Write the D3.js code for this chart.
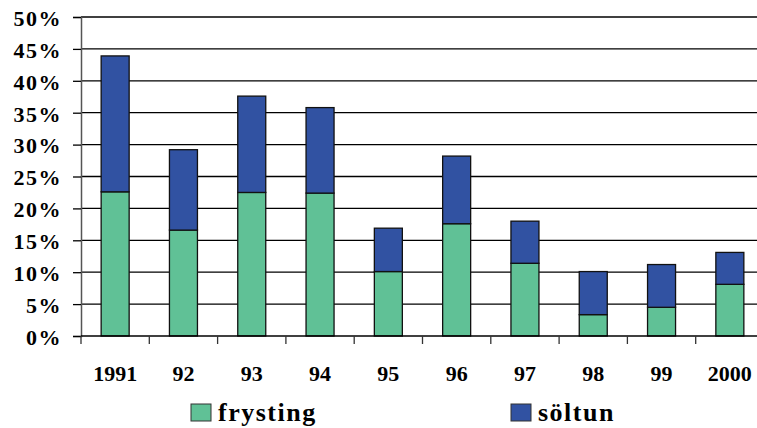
<!DOCTYPE html>
<html><head><meta charset="utf-8">
<script src="https://cdn.jsdelivr.net/npm/d3@7"></script>
<style>
body{margin:0;background:#fff}
svg{display:block}
svg text{font-family:"Liberation Serif",Tinos,"Times New Roman",serif;font-weight:bold}
</style>
</head><body>
<svg id="c" width="757" height="428"></svg>
<script>
const categories = ["1991","92","93","94","95","96","97","98","99","2000"];
const frysting = [22.6, 16.6, 22.5, 22.4, 10.1, 17.6, 11.4, 3.35, 4.5, 8.1];
const soltun   = [21.3, 12.6, 15.1, 13.4, 6.8, 10.6, 6.6, 6.75, 6.7, 5.0];
const seriesNames = ["frysting","söltun"];
const colors = ["#60C196","#3152A2"];
const yTicks = [0,5,10,15,20,25,30,35,40,45,50];

const svg = d3.select("#c");
const m = {left:81, top:17, right:764, bottom:336};
const x = d3.scaleBand().domain(categories).range([m.left, m.right]).paddingInner(0.59).paddingOuter(0.295);
const xb = d3.scaleBand().domain(categories).range([m.left, m.right]);
const y = d3.scaleLinear().domain([0,50]).range([m.bottom, m.top]);

// gridlines
svg.append("g").selectAll("line").data(yTicks.slice(1)).join("line")
  .attr("x1", m.left).attr("x2", 757).attr("y1", d=>y(d)).attr("y2", d=>y(d))
  .attr("stroke","#000").attr("stroke-width",1.3);

// stacked bars
const data = categories.map((c,i)=>({cat:c, frysting:frysting[i], soltun:soltun[i]}));
const stack = d3.stack().keys(["frysting","soltun"])(data);
svg.append("g").selectAll("g").data(stack).join("g").attr("fill",(d,i)=>colors[i])
  .selectAll("rect").data(d=>d).join("rect")
  .attr("x", d=>x(d.data.cat)).attr("width", x.bandwidth())
  .attr("y", d=>y(d[1])).attr("height", d=>y(d[0])-y(d[1]))
  .attr("stroke","#111").attr("stroke-width",1.3);

// y axis
const ya = svg.append("g").attr("transform",`translate(${m.left},0)`)
  .call(d3.axisLeft(y).tickValues(yTicks).tickFormat(d=>d+"%").tickSize(8).tickPadding(11));
ya.attr("font-family",null).attr("font-size",null);
ya.select(".domain").attr("stroke","#555").attr("stroke-width",1.5);
ya.selectAll(".tick line").attr("stroke","#000").attr("stroke-width",1.3);
ya.selectAll("text").style("font-size","22px").attr("fill","#000").attr("dy","0.38em").style("letter-spacing","1.5px");

// x axis
svg.append("line").attr("x1",m.left).attr("x2",757).attr("y1",m.bottom).attr("y2",m.bottom).attr("stroke","#000").attr("stroke-width",1.5);
svg.append("g").selectAll("line").data(categories).join("line")
  .attr("x1",d=>xb(d)).attr("x2",d=>xb(d)).attr("y1",m.bottom).attr("y2",m.bottom+8)
  .attr("stroke","#333").attr("stroke-width",1.3);
svg.append("g").selectAll("text").data(categories).join("text")
  .attr("x",d=>xb(d)+xb.bandwidth()/2).attr("y",381).attr("text-anchor","middle")
  .style("font-size","22px").text(d=>d);

// legend
const lx = [191, 511];
const lg = svg.append("g").selectAll("g").data(seriesNames).join("g")
  .attr("transform",(d,i)=>`translate(${lx[i]},404)`);
lg.append("rect").attr("width",20).attr("height",17).attr("fill",(d,i)=>colors[i]).attr("stroke","#333").attr("stroke-width",1);
lg.append("text").attr("x",27).attr("y",16.5)
  .style("font-size","26px").style("letter-spacing","1.5px").text(d=>d);
</script>
</body></html>
